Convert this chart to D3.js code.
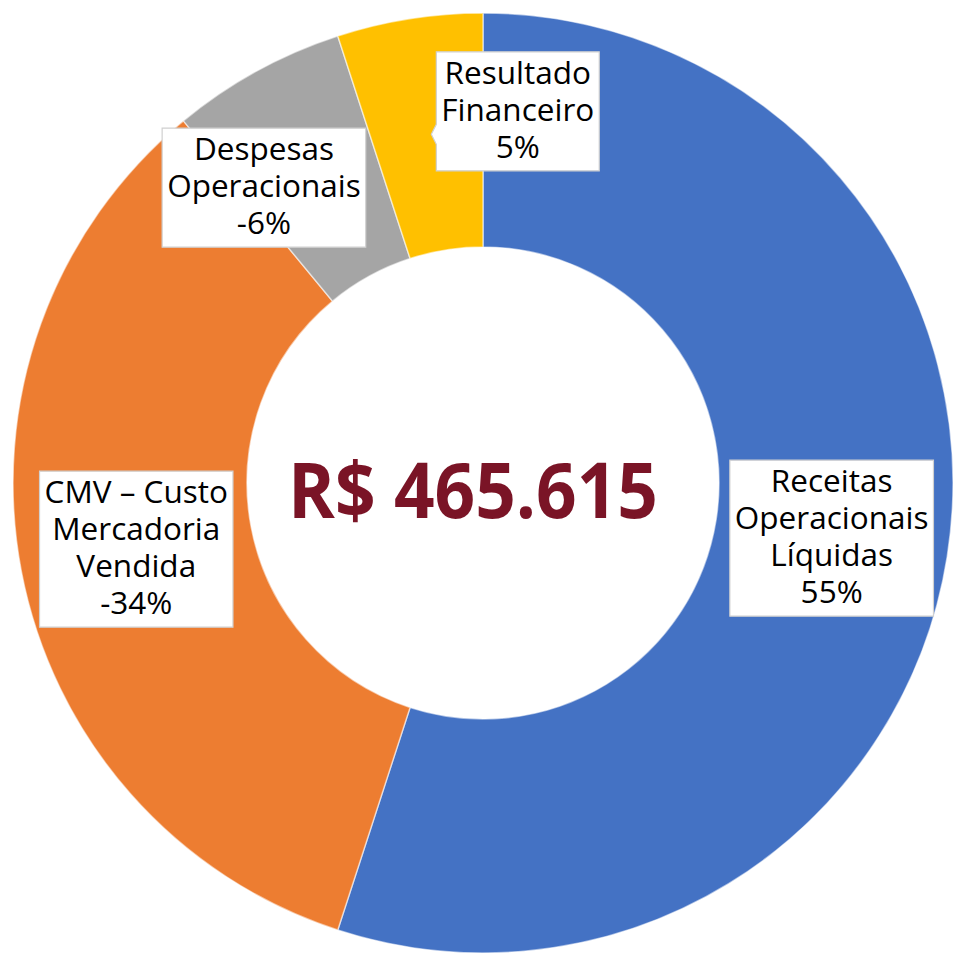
<!DOCTYPE html>
<html>
<head>
<meta charset="utf-8">
<script src="https://cdn.jsdelivr.net/npm/d3@7"></script>
<style>
  html, body { margin: 0; padding: 0; background: #fff; }
  #vis-display { width: 953px; height: 953px; }
</style>
</head>
<body>
<div id="vis-display"></div>
<script>
// Donut: result composition, total in the hole, Excel-style boxed data labels.

const CATEGORIES = [
  "Receitas Operacionais Líquidas",
  "CMV – Custo Mercadoria Vendida",
  "Despesas Operacionais",
  "Resultado Financeiro",
];
const LABEL_LINES = [
  ["Receitas", "Operacionais", "Líquidas"],
  ["CMV – Custo", "Mercadoria", "Vendida"],
  ["Despesas", "Operacionais"],
  ["Resultado", "Financeiro"],
];
const SHARES   = [55, 34, 6, 5];          // slice size, %
const SIGNS    = [1, -1, -1, 1];          // sign shown in the label
const TOTAL    = "R$ 465.615";

const COLORS = ["#4472C4", "#ED7D31", "#A5A5A5", "#FFC000"];

const W = 953, H = 953;
const cx = 483, cy = 483;
const outerR = 470, innerR = 236;

// labels that were dragged off their centroid (dx, dy)
const LABEL_SHIFT = { 2: [-49, 14], 3: [90, -23] };

const svg = d3.select("#vis-display").append("svg")
  .attr("width", W)
  .attr("height", H);

const pie = d3.pie().value(d => d).sort(null);
const arcs = pie(SHARES);

const arc = d3.arc().innerRadius(innerR).outerRadius(outerR);
const mid = d3.arc().innerRadius((innerR + outerR) / 2).outerRadius((innerR + outerR) / 2);

const g = svg.append("g").attr("transform", `translate(${cx},${cy})`);

g.selectAll("path.slice")
  .data(arcs)
  .join("path")
    .attr("class", "slice")
    .attr("d", arc)
    .attr("fill", (d, i) => COLORS[i])
    .attr("stroke", "rgba(255,255,255,0.55)")
    .attr("stroke-width", 1.5);

// ── centre total ──────────────────────────────────────────────────────────
g.append("text")
  .attr("x", -10)
  .attr("y", 35)
  .attr("text-anchor", "middle")
  .attr("textLength", 370)
  .attr("lengthAdjust", "spacingAndGlyphs")
  .style("font-family", "'Open Sans', 'DejaVu Sans', sans-serif")
  .style("font-weight", 700)
  .style("font-size", "77px")
  .style("fill", "#7A1426")
  .text(TOTAL);

// ── data labels ───────────────────────────────────────────────────────────
const LINE_H = 37;
const FONT = "'Open Sans', 'DejaVu Sans', sans-serif";

arcs.forEach((d, i) => {
  const [mx, my] = mid.centroid(d);
  const shift = LABEL_SHIFT[i] || [0, 0];
  const x = mx + shift[0], y = my + shift[1];
  const lines = LABEL_LINES[i].concat([(SIGNS[i] < 0 ? "-" : "") + SHARES[i] + "%"]);

  const lg = g.append("g").attr("transform", `translate(${x},${y})`);
  const box = lg.append("path");

  const t = lg.append("text")
    .attr("text-anchor", "middle")
    .style("font-family", FONT)
    .style("font-size", "31.5px")
    .style("fill", "#000");

  const top = -(lines.length * LINE_H) / 2;
  lines.forEach((s, k) => {
    t.append("tspan")
      .attr("x", 0)
      .attr("y", top + k * LINE_H + LINE_H * 0.76)
      .text(s);
  });

  const bb = t.node().getBBox();
  const padX = 5, padY = 4;
  const x0 = bb.x - padX, x1 = bb.x + bb.width + padX;
  const y0 = top - padY, y1 = top + lines.length * LINE_H + padY;

  let p;
  if (i === 3) {
    // callout with a small pointer back toward the slice
    const py = my - y;
    p = `M${x0},${y0}H${x1}V${y1}H${x0}V${py + 10}L${x0 - 5},${py}L${x0},${py - 10}Z`;
  } else {
    p = `M${x0},${y0}H${x1}V${y1}H${x0}Z`;
  }
  box.attr("d", p)
    .attr("fill", "#fff")
    .attr("stroke", "#d0d0d0")
    .attr("stroke-width", 1.2);
});
</script>
</body>
</html>
